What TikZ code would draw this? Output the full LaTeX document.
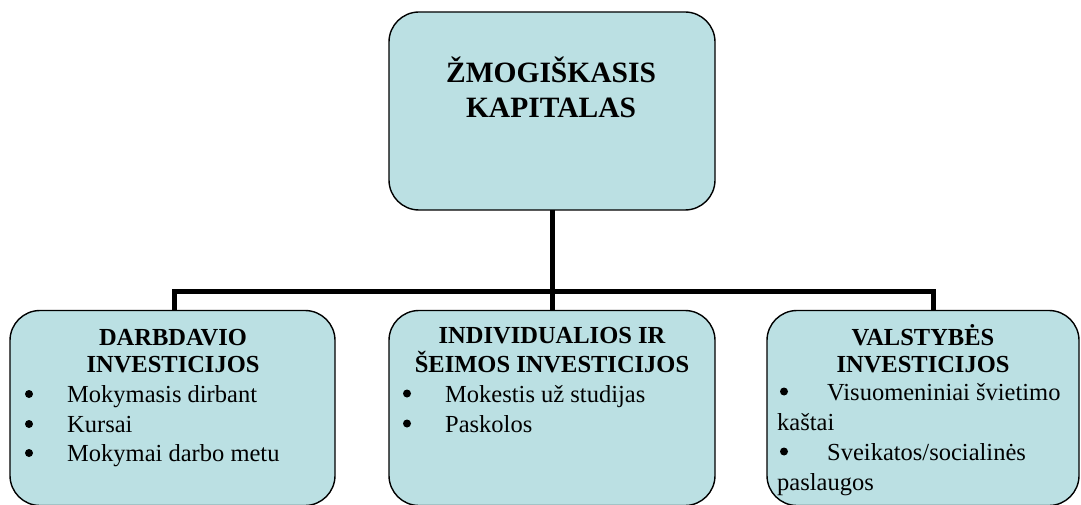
\documentclass[tikz,border=0pt]{standalone}
\usepackage{fontspec}
\setmainfont{Liberation Serif}
\begin{document}
\begin{tikzpicture}[x=1pt,y=-1pt,
  box/.style={draw=black,line width=1.4pt,fill=boxfill,rounded corners=30pt},
  link/.style={draw=black,line width=5pt},
  head/.style={inner sep=0pt,anchor=base,font=\fontsize{24.5}{28}\selectfont\bfseries},
  bighead/.style={inner sep=0pt,anchor=base,font=\fontsize{29.5}{34}\selectfont\bfseries},
  item/.style={inner sep=0pt,anchor=base west,font=\fontsize{24.5}{28}\selectfont},
  bul/.style={circle,fill=black,inner sep=0pt,minimum size=8pt}]
\definecolor{boxfill}{HTML}{BBE0E3}
\useasboundingbox (0,0) rectangle (1081,505);
% connectors
\coordinate (j) at (552,291);
\coordinate (jl) at (174,291);
\coordinate (jr) at (933,291);
\coordinate (tl) at (174,311);
\coordinate (tm) at (552,311);
\coordinate (tr) at (933,311);
\coordinate (tt) at (552,209);
\draw[link] (tt) -- (j);
\draw[link] (tl) -- (jl) -- (jr) -- (tr);
\draw[link] (j) -- (tm);
% boxes
\node[box,minimum width=326pt,minimum height=198pt] (top) at (552,111) {};
\node[box,minimum width=325pt,minimum height=195pt] (left) at (172.5,408) {};
\node[box,minimum width=326pt,minimum height=195pt] (mid) at (552,408) {};
\node[box,minimum width=312pt,minimum height=195pt] (right) at (923,408) {};
% top text
\node[bighead] (t1) at (551,83) {ŽMOGIŠKASIS};
\node[bighead] (t2) at (551,118) {KAPITALAS};
% left text
\node[head] (l1) at (173,345) {DARBDAVIO};
\node[head] (l2) at (173,372.7) {INVESTICIJOS};
\node[bul] (lb1) at (29,394) {};
\node[item] (li1) at (67,402.7) {Mokymasis dirbant};
\node[bul] (lb2) at (29,424) {};
\node[item] (li2) at (67,432.7) {Kursai};
\node[bul] (lb3) at (29,453) {};
\node[item] (li3) at (67,461.7) {Mokymai darbo metu};
% middle text
\node[head] (m1) at (552,343) {INDIVIDUALIOS IR};
\node[head] (m2) at (552,372) {ŠEIMOS INVESTICIJOS};
\node[bul] (mb1) at (407,393.5) {};
\node[item] (mi1) at (445,402) {Mokestis už studijas};
\node[bul] (mb2) at (407,423.5) {};
\node[item] (mi2) at (445,432) {Paskolos};
% right text
\node[head] (r1) at (923,345) {VALSTYBĖS};
\node[head] (r2) at (923,372.7) {INVESTICIJOS};
\node[bul] (rb1) at (784,391.5) {};
\node[item] (ri1) at (827,400) {Visuomeniniai švietimo};
\node[item] (ri1b) at (777,430) {kaštai};
\node[bul] (rb2) at (784,451.5) {};
\node[item] (ri2) at (827,460) {Sveikatos/socialinės};
\node[item] (ri2b) at (777,490) {paslaugos};
\end{tikzpicture}
\end{document}
